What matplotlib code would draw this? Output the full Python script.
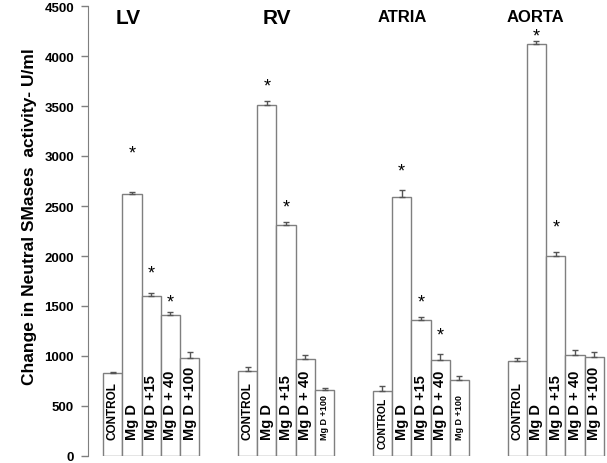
import matplotlib
matplotlib.use('Agg')
import matplotlib.pyplot as plt

plt.rcParams['font.family'] = ['Liberation Sans', 'DejaVu Sans']

grupos = ['LV', 'RV', 'ATRIA', 'AORTA']
tratamientos = ['CONTROL', 'Mg D', 'Mg D +15', 'Mg D + 40', 'Mg D +100']

valores = {
    'LV':    [830, 2620, 1600, 1410, 980],
    'RV':    [850, 3510, 2310, 970, 660],
    'ATRIA': [650, 2590, 1360, 965, 757],
    'AORTA': [950, 4120, 2005, 1015, 990],
}
errores = {
    'LV':    [15, 20, 30, 30, 57],
    'RV':    [40, 40, 30, 38, 25],
    'ATRIA': [55, 70, 35, 55, 45],
    'AORTA': [35, 30, 40, 50, 55],
}
# altura de los asteriscos (None = sin asterisco)
asteriscos = {
    'LV':    [None, 3030, 1830, 1540, None],
    'RV':    [None, 3700, 2490, None, None],
    'ATRIA': [None, 2850, 1540, 1210, None],
    'AORTA': [None, 4200, 2290, None, None],
}
yticks = [0, 500, 1000, 1500, 2000, 2500, 3000, 3500, 4000, 4500]

fig = plt.figure(figsize=(6.07, 4.64), dpi=100)
ax = fig.add_axes([88/607, 7/464, 519/607, 450/464])

gris = '#7f7f7f'
for g, grupo in enumerate(grupos):
    xs = [g*7 + i for i in range(5)]
    ax.bar(xs, valores[grupo], width=1.0, color='white', edgecolor=gris, linewidth=1)
    ax.errorbar(xs, valores[grupo], yerr=[[0]*5, errores[grupo]], fmt='none',
                ecolor='#555555', elinewidth=1, capsize=2.5, capthick=1)
    for i, x in enumerate(xs):
        nombre = tratamientos[i]
        base = 170
        if nombre == 'CONTROL':
            tam, peso = 8.5, 'bold'
            if grupo == 'ATRIA':
                tam, base = 7.5, 80
        elif nombre == 'Mg D +100' and grupo in ('RV', 'ATRIA'):
            tam, peso = 6.5, 'bold'
        else:
            tam, peso = 10.5, 'bold'
        ax.text(x, base, nombre, rotation=90, ha='center', va='bottom',
                fontsize=tam, fontweight=peso)
        if asteriscos[grupo][i] is not None:
            ax.text(x, asteriscos[grupo][i], '*', ha='center', va='center', fontsize=13)

ax.set_xlim(-1.28, 25.66)
ax.set_ylim(0, 4500)
ax.set_xticks([])
ax.set_yticks(yticks)
ax.set_yticklabels([str(v) for v in yticks], fontsize=9.5, fontweight='bold')
ax.tick_params(axis='y', direction='out', length=5, width=1, color=gris, pad=5)
for lado in ['top', 'right', 'bottom']:
    ax.spines[lado].set_visible(False)
ax.spines['left'].set_color(gris)

ax.set_ylabel('Change in Neutral SMases  activity- U/ml', fontsize=12.5, fontweight='bold')
ax.yaxis.set_label_coords(-0.098, 0.535)

titulos = [('LV', 128, 15, 'bold'), ('RV', 277, 15, 'bold'),
           ('ATRIA', 402, 12, 'bold'), ('AORTA', 535, 12, 'bold')]
for texto, px, tam, peso in titulos:
    fig.text(px/607, 1 - 18/464, texto, ha='center', va='center', fontsize=tam, fontweight=peso)

fig.savefig('out.png', dpi=100)
